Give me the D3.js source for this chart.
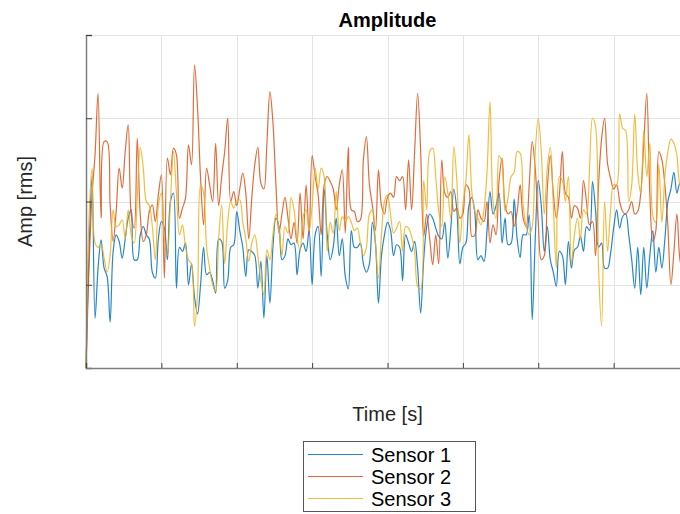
<!DOCTYPE html>
<html>
<head>
<meta charset="utf-8">
<script src="https://cdn.jsdelivr.net/npm/d3@7"></script>
<style>
  html, body { margin: 0; padding: 0; background: #fff; }
  svg { display: block; font-family: "Liberation Sans", Arial, sans-serif; }
</style>
</head>
<body>
<svg id="chart" width="680" height="514"></svg>
<script>
// Sample spacing of the recorded signals (seconds)
const sampleStep = 0.04;

// RMS amplitude per sensor, one value per sample
const sensor1 = [
  0, 1.4, 2.3, 0.6, 1.2, 1.54, 1.2, 1.1, 0.55, 1.4, 1.6, 1.52, 1.32, 1.55, 1.8, 1.9, 1.3, 1.3, 1.6, 1.7,
  1.6, 1.55, 1.15, 1.08, 1.55, 1.76, 1.68, 1.3, 2.0, 2.1, 0.96, 1.45, 1.4, 1.5, 1.0, 1.25, 0.85, 0.65, 1.0, 1.45,
  1.12, 1.15, 1.05, 0.9, 1.55, 1.52, 0.96, 1.05, 1.45, 1.48, 1.88, 1.65, 1.45, 1.1, 1.42, 1.4, 1.35, 0.96, 1.28, 0.6,
  1.35, 0.78, 1.45, 1.8, 1.7, 1.3, 1.35, 1.55, 1.48, 1.5, 1.12, 1.42, 1.5, 1.4, 1.65, 1.0, 1.6, 1.7, 1.1, 2.15,
  1.6, 1.3, 1.45, 1.8, 1.35, 1.55, 1.1, 0.95, 1.65, 1.45, 1.45, 1.5, 1.25, 1.15, 1.25, 1.75, 1.5, 0.78, 1.35, 1.6,
  1.75, 1.66, 1.35, 1.48, 1.45, 1.05, 1.6, 1.5, 1.4, 1.52, 1.2, 0.66, 1.3, 1.7, 1.85, 1.8, 1.68, 1.58, 1.55, 1.75,
  1.32, 1.68, 2.15, 1.9, 1.25, 1.45, 1.5, 1.95, 2.05, 1.85, 1.3, 1.35, 1.28, 1.65, 2.12, 1.85, 1.95, 2.1, 1.5, 1.8,
  1.48, 1.5, 2.03, 1.55, 1.33, 1.6, 1.6, 1.84, 0.58, 1.55, 2.25, 1.95, 1.4, 1.7, 1.3, 1.15, 0.98, 1.4, 1.35, 1.0,
  1.52, 1.2, 1.42, 1.45, 1.58, 1.4, 1.7, 1.65, 2.24, 1.9, 1.45, 1.5, 1.2, 1.2, 1.38, 1.68, 1.9, 1.68, 1.82, 1.85,
  1.6, 1.3, 0.96, 1.45, 0.88, 1.45, 0.96, 1.35, 1.65, 1.15, 1.45, 1.2, 1.55, 2.0, 2.15, 2.35, 2.1, 2.22, 2.2
];
const sensor2 = [
  0, 1.2, 2.08, 2.56, 3.3, 1.8, 2.72, 2.72, 1.96, 1.52, 1.88, 2.4, 2.16, 2.6, 2.92, 1.84, 1.68, 2.76, 1.84, 1.52,
  1.6, 1.88, 1.96, 1.76, 2.08, 2.32, 1.08, 2.52, 2.32, 2.64, 2.56, 1.8, 1.92, 2.04, 2.68, 2.44, 3.64, 3.12, 2.28, 1.72,
  2.4, 2.2, 2.0, 2.7, 1.95, 2.3, 2.6, 3.0, 2.0, 2.12, 1.95, 2.15, 2.34, 2.1, 1.55, 2.05, 2.45, 2.65, 2.22, 2.15,
  2.7, 3.32, 2.95, 2.2, 1.62, 1.85, 2.05, 1.8, 1.55, 1.75, 1.5, 2.1, 1.55, 2.2, 1.6, 2.55, 2.3, 2.08, 1.6, 2.2,
  2.3, 2.24, 2.15, 1.9, 2.2, 2.38, 1.62, 2.65, 1.9, 1.88, 1.76, 1.78, 2.5, 2.78, 2.2, 1.95, 1.65, 2.38, 1.95, 1.85,
  2.05, 2.1, 2.05, 2.3, 2.25, 2.3, 1.9, 2.5, 1.9, 2.6, 3.3, 2.6, 1.58, 1.85, 1.55, 1.24, 1.6, 1.25, 2.5, 2.1,
  2.05, 2.12, 1.88, 1.92, 1.8, 1.85, 2.2, 2.15, 1.58, 1.6, 1.9, 1.8, 1.76, 2.0, 1.5, 1.72, 1.6, 2.25, 2.52, 1.95,
  1.85, 1.88, 1.7, 1.88, 2.2, 1.8, 1.7, 2.2, 2.72, 2.4, 1.75, 1.3, 1.35, 2.15, 2.55, 2.1, 1.8, 2.08, 2.6, 2.1,
  2.05, 1.8, 1.95, 1.92, 1.8, 2.25, 2.0, 1.72, 1.76, 1.35, 2.2, 2.75, 3.0, 2.45, 2.28, 2.15, 2.2, 2.0, 1.88, 1.85,
  1.9, 2.0, 1.85, 1.88, 2.1, 2.7, 3.3, 2.1, 1.52, 1.65, 2.6, 2.5, 2.2, 1.7, 1.0, 1.4, 1.85, 1.3, 1.15
];
const sensor3 = [
  0, 1.8, 2.4, 1.5, 1.45, 1.48, 1.32, 1.15, 1.35, 1.9, 1.7, 1.72, 1.78, 1.55, 1.9, 1.6, 1.5, 2.05, 2.65, 2.4,
  2.0, 1.95, 1.7, 1.3, 1.95, 2.1, 1.55, 1.35, 2.0, 2.6, 2.1, 1.6, 1.72, 1.45, 1.3, 1.25, 0.5, 0.9, 2.2, 2.1,
  1.45, 1.2, 1.0, 0.92, 1.55, 1.96, 1.25, 1.75, 2.0, 1.92, 2.0, 2.02, 1.75, 1.55, 1.28, 1.5, 1.6, 1.35, 1.05, 0.88,
  1.42, 1.3, 1.6, 1.85, 1.68, 1.35, 1.7, 1.62, 2.05, 1.9, 1.55, 1.42, 1.82, 1.9, 1.65, 1.95, 2.4, 2.15, 2.4, 2.3,
  1.4, 1.75, 1.62, 2.12, 1.65, 1.82, 1.76, 1.82, 1.75, 1.65, 1.68, 1.5, 1.35, 1.45, 1.85, 1.9, 1.5, 1.08, 1.6, 2.0,
  2.08, 1.85, 1.62, 1.68, 1.76, 1.4, 1.7, 1.68, 1.58, 1.4, 0.98, 0.95, 2.25, 1.9, 2.6, 2.64, 2.3, 1.88, 1.7, 2.3,
  2.1, 1.8, 2.66, 2.25, 1.5, 1.95, 2.25, 2.8, 2.1, 1.88, 1.8, 1.72, 1.9, 2.35, 3.2, 2.0, 1.8, 2.55, 2.45, 1.88,
  2.05, 2.3, 2.35, 2.6, 2.58, 1.95, 1.7, 1.6, 1.7, 2.6, 3.0, 2.6, 1.85, 2.4, 2.65, 1.95, 1.2, 2.3, 2.25, 2.0,
  2.3, 1.25, 1.6, 1.8, 1.55, 1.9, 1.85, 2.4, 3.0, 2.9, 1.2, 0.5, 2.0, 1.4, 1.9, 2.2, 2.2, 3.05, 2.88, 2.85,
  2.0, 2.2, 3.05, 2.35, 2.1, 2.85, 2.3, 2.7, 1.83, 1.75, 2.45, 1.75, 2.3, 2.6, 2.75, 2.7, 2.55, 2.2, 2.15
];

const seriesNames = ["Sensor 1", "Sensor 2", "Sensor 3"];
const seriesColors = ["#0072BD", "#D95319", "#EDB120"];
const xTicks = [0, 1, 2, 3, 4, 5, 6, 7, 8];
const yTicks = [0, 1, 2, 3, 4];

const svg = d3.select("#chart");
const plotLeft = 86, plotRight = 689, plotTop = 35, plotBottom = 368;

const x = d3.scaleLinear().domain([0, 8]).range([plotLeft, plotRight]);
const y = d3.scaleLinear().domain([0, 4]).range([plotBottom, plotTop]);

// grid
const grid = svg.append("g").attr("stroke", "#e3e3e3").attr("stroke-width", 1);
grid.selectAll("line.gx").data(xTicks.slice(1)).join("line")
  .attr("x1", d => Math.round(x(d)) + 0.5).attr("x2", d => Math.round(x(d)) + 0.5)
  .attr("y1", plotTop).attr("y2", plotBottom);
grid.selectAll("line.gy").data(yTicks.slice(1)).join("line")
  .attr("y1", d => Math.round(y(d)) + 0.5).attr("y2", d => Math.round(y(d)) + 0.5)
  .attr("x1", plotLeft).attr("x2", plotRight);

// data lines
const line = d3.line()
  .x((d, i) => x(i * sampleStep))
  .y(d => y(d))
  .curve(d3.curveCatmullRom.alpha(0.5));

[sensor1, sensor2, sensor3].forEach((vals, k) => {
  svg.append("path")
    .datum(vals)
    .attr("fill", "none")
    .attr("stroke", seriesColors[k])
    .attr("stroke-width", 1.2)
    .attr("stroke-opacity", 0.85)
    .attr("stroke-linejoin", "round")
    .attr("d", line);
});

// axes (ticks pointing inward, no labels)
const axisColor = "#7f7f7f";
const yAxis = d3.axisLeft(y).tickValues(yTicks).tickSize(-6).tickFormat("");
const xAxis = d3.axisBottom(x).tickValues(xTicks).tickSize(-5).tickFormat("");

const gy = svg.append("g").attr("transform", `translate(${plotLeft},0)`).call(yAxis);
const gx = svg.append("g").attr("transform", `translate(0,${plotBottom})`).call(xAxis);
[gx, gy].forEach(g => {
  g.select(".domain").attr("stroke", axisColor).attr("stroke-width", 1.5);
  g.selectAll(".tick line").attr("stroke", "#404040").attr("stroke-width", 1);
});

// title and axis labels
svg.append("text")
  .attr("x", (plotLeft + plotRight) / 2).attr("y", 27)
  .attr("text-anchor", "middle")
  .attr("font-size", 20).attr("font-weight", "bold").attr("fill", "#000")
  .text("Amplitude");

svg.append("text")
  .attr("x", (plotLeft + plotRight) / 2).attr("y", 421)
  .attr("text-anchor", "middle")
  .attr("font-size", 20).attr("fill", "#262626")
  .text("Time [s]");

svg.append("text")
  .attr("transform", `translate(32,${(plotTop + plotBottom) / 2}) rotate(-90)`)
  .attr("text-anchor", "middle")
  .attr("font-size", 20).attr("fill", "#262626")
  .text("Amp [rms]");

// legend
const legend = svg.append("g");
legend.append("rect")
  .attr("x", 303.5).attr("y", 441.5).attr("width", 172).attr("height", 70)
  .attr("fill", "#fff").attr("stroke", "#555").attr("stroke-width", 1);

seriesNames.forEach((name, k) => {
  const ly = 454.5 + k * 22;
  legend.append("line")
    .attr("x1", 308).attr("x2", 363).attr("y1", ly).attr("y2", ly)
    .attr("stroke", seriesColors[k]).attr("stroke-width", 1.2).attr("stroke-opacity", 0.85);
  legend.append("text")
    .attr("x", 371).attr("y", ly + 7)
    .attr("font-size", 20).attr("fill", "#000")
    .text(name);
});
</script>
</body>
</html>
